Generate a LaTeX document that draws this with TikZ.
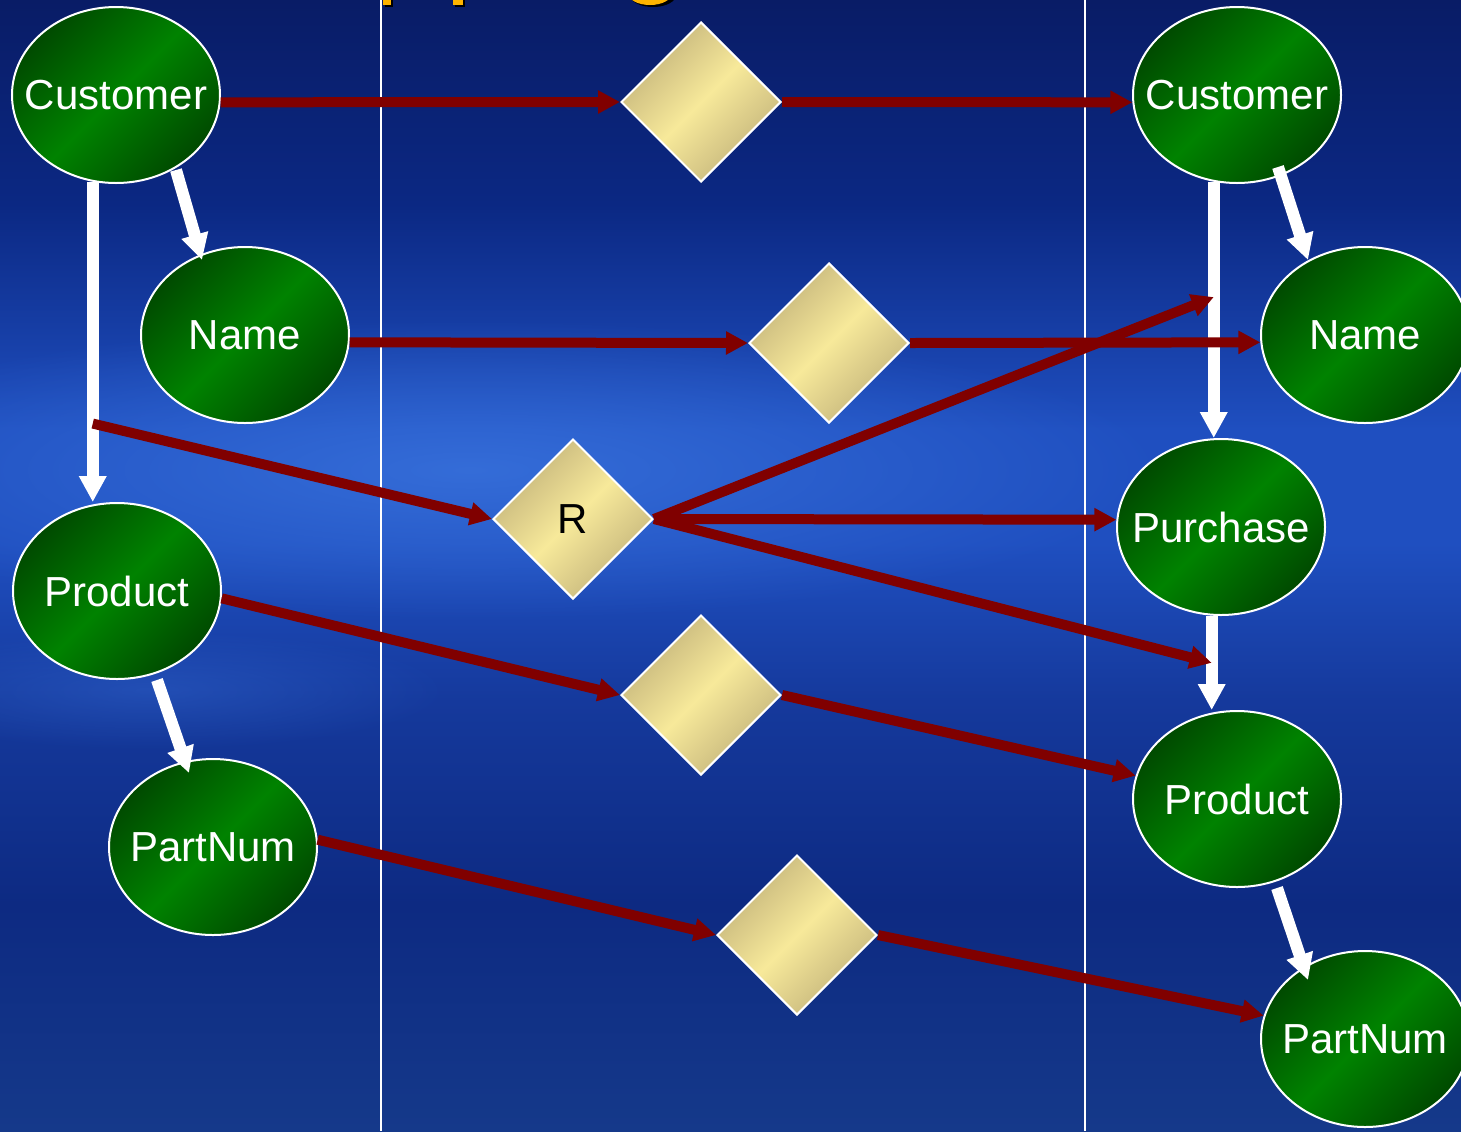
\documentclass[tikz,border=0pt]{standalone}
\usepackage{fontspec}
\setmainfont{Liberation Sans}
\usetikzlibrary{shapes.geometric,arrows.meta,calc,fadings}

\definecolor{bgTop}{HTML}{091C66}
\definecolor{bgUp}{HTML}{0B2883}
\definecolor{bgMid}{HTML}{1F4FC0}
\definecolor{bgMidB}{HTML}{15399C}
\definecolor{bgLow}{HTML}{0D2A82}
\definecolor{bgBot}{HTML}{15398A}
\definecolor{glowC}{HTML}{3A74DE}
\definecolor{gDark}{HTML}{004A00}
\definecolor{gBright}{HTML}{008200}
\definecolor{yDark}{HTML}{C2B27A}
\definecolor{yLight}{HTML}{F7E99A}
\definecolor{arrRed}{HTML}{800000}
\definecolor{titleOr}{HTML}{FFB400}

\pgfdeclareverticalshading{bgshade}{100bp}{color(0bp)=(bgBot); color(25bp)=(bgBot); color(35bp)=(bgLow); color(44bp)=(bgMidB); color(51bp)=(bgMid); color(56bp)=(bgMid); color(66bp)=(bgUp); color(75bp)=(bgTop); color(100bp)=(bgTop)}
\tikzfading[name=glowfade, inner color=transparent!0, outer color=transparent!100]

\newcommand\ctext[1]{\makebox[0pt]{#1}}

\tikzset{
  ent/.style={ellipse, draw=white, line width=1pt, minimum width=104pt, minimum height=88pt,
    inner sep=0pt, left color=gDark, right color=gDark, middle color=gBright, shading angle=45,
    text=white, font=\fontsize{21}{25}\selectfont},
  rel/.style={diamond, aspect=1, draw=white, line width=1pt, minimum width=80pt, minimum height=80pt,
    inner sep=0pt, left color=yDark, right color=yDark, middle color=yLight, shading angle=45,
    text=black, font=\fontsize{21}{25}\selectfont},
  redarr/.style={draw=arrRed, line width=5pt, -{Triangle[length=11pt,width=11pt]}},
  whitearr/.style={draw=white, line width=6pt, -{Triangle[length=13pt,width=13pt]}},
  lane/.style={draw=white, line width=1pt},
}

\begin{document}
\begin{tikzpicture}[x=0.5pt,y=-0.5pt]
\useasboundingbox (0,0) rectangle (1461,1131);
\clip (0,0) rectangle (1461,1131);
% background
\shade[shading=bgshade] (0,0) rectangle (1461,1131);
\fill[glowC, path fading=glowfade, fit fading=true, opacity=0.8] (470,470) ellipse [x radius=700, y radius=150];
\fill[glowC, path fading=glowfade, fit fading=true, opacity=0.35] (150,690) ellipse [x radius=300, y radius=60];

% title fragments
\fill[black] (385,0) rectangle (393,7);
\fill[titleOr] (383,0) rectangle (391,5);
\fill[black] (455,0) rectangle (465,7);
\fill[titleOr] (453,0) rectangle (463,5);
\fill[black] (653,-5) ellipse [x radius=23, y radius=12];
\fill[titleOr] (650,-7) ellipse [x radius=22, y radius=12];

% lane lines
\coordinate (laneA) at (381,0);
\coordinate (laneB) at (1085,0);
\draw[lane] (laneA) -- (laneA |- 0,1131);
\draw[lane] (laneB) -- (laneB |- 0,1131);

% entities
\node[ent] (cL) at (116,95) {\ctext{Customer}};
\node[ent] (nL) at (245,335) {\ctext{Name}};
\node[ent] (pL) at (117,591) {\ctext{Product}};
\node[ent] (ptL) at (213,847) {\ctext{PartNum}};
\node[ent] (cR) at (1237,95) {\ctext{Customer}};
\node[ent] (nR) at (1365,335) {\ctext{Name}};
\node[ent] (pu) at (1221,527) {\ctext{Purchase}};
\node[ent] (prR) at (1237,799) {\ctext{Product}};
\node[ent] (ptR) at (1365,1039) {\ctext{PartNum}};

% relations
\node[rel] (d1) at (701,102) {};
\node[rel] (d2) at (829,343) {};
\node[rel] (dR) at (573,519) {R};
\node[rel] (d4) at (701,695) {};
\node[rel] (d5) at (797,935) {};

% white structure arrows
\draw[whitearr] (cL.255) -- (cL.255 |- pL.north);
\draw[whitearr] ($(cL)+(60,75)$) -- ($(nL)+(-43,-75)$);
\draw[whitearr] ($(pL)+(40,89)$) -- ($(ptL)+(-24,-74)$);
\draw[whitearr] (cR.255) -- (cR.255 |- pu.north);
\draw[whitearr] ($(cR)+(41,72)$) -- ($(nR)+(-57,-75)$);
\draw[whitearr] (pu.264) -- (pu.264 |- prR.north);
\draw[whitearr] ($(prR)+(40,89)$) -- ($(ptR)+(-57,-59)$);

\coordinate (j1) at ($(cL.255)!0.755!(cL.255 |- pL.north)$);
\coordinate (j2) at ($(cR.255)!0.45!(cR.255 |- pu.north)$);
\coordinate (j3) at ($(pu.264)!0.5!(pu.264 |- prR.north)$);

% red mapping arrows
\draw[redarr] (cL.-4) -- (d1.west);
\draw[redarr] (d1.east) -- (cR.184);
\draw[redarr] (nL.-4) -- (d2.west);
\draw[redarr] (d2.east) -- (nR.184);
\draw[redarr] (j1) -- (dR.west);
\draw[redarr] (dR.east) -- (pu.176);
\draw[redarr] (dR.east) -- (j2);
\draw[redarr] (dR.east) -- (j3);
\draw[redarr] (pL.-4) -- (d4.west);
\draw[redarr] (d4.east) -- (prR.167);
\draw[redarr] (ptL.4) -- (d5.west);
\draw[redarr] (d5.east) -- (ptR.167);
\end{tikzpicture}
\end{document}
